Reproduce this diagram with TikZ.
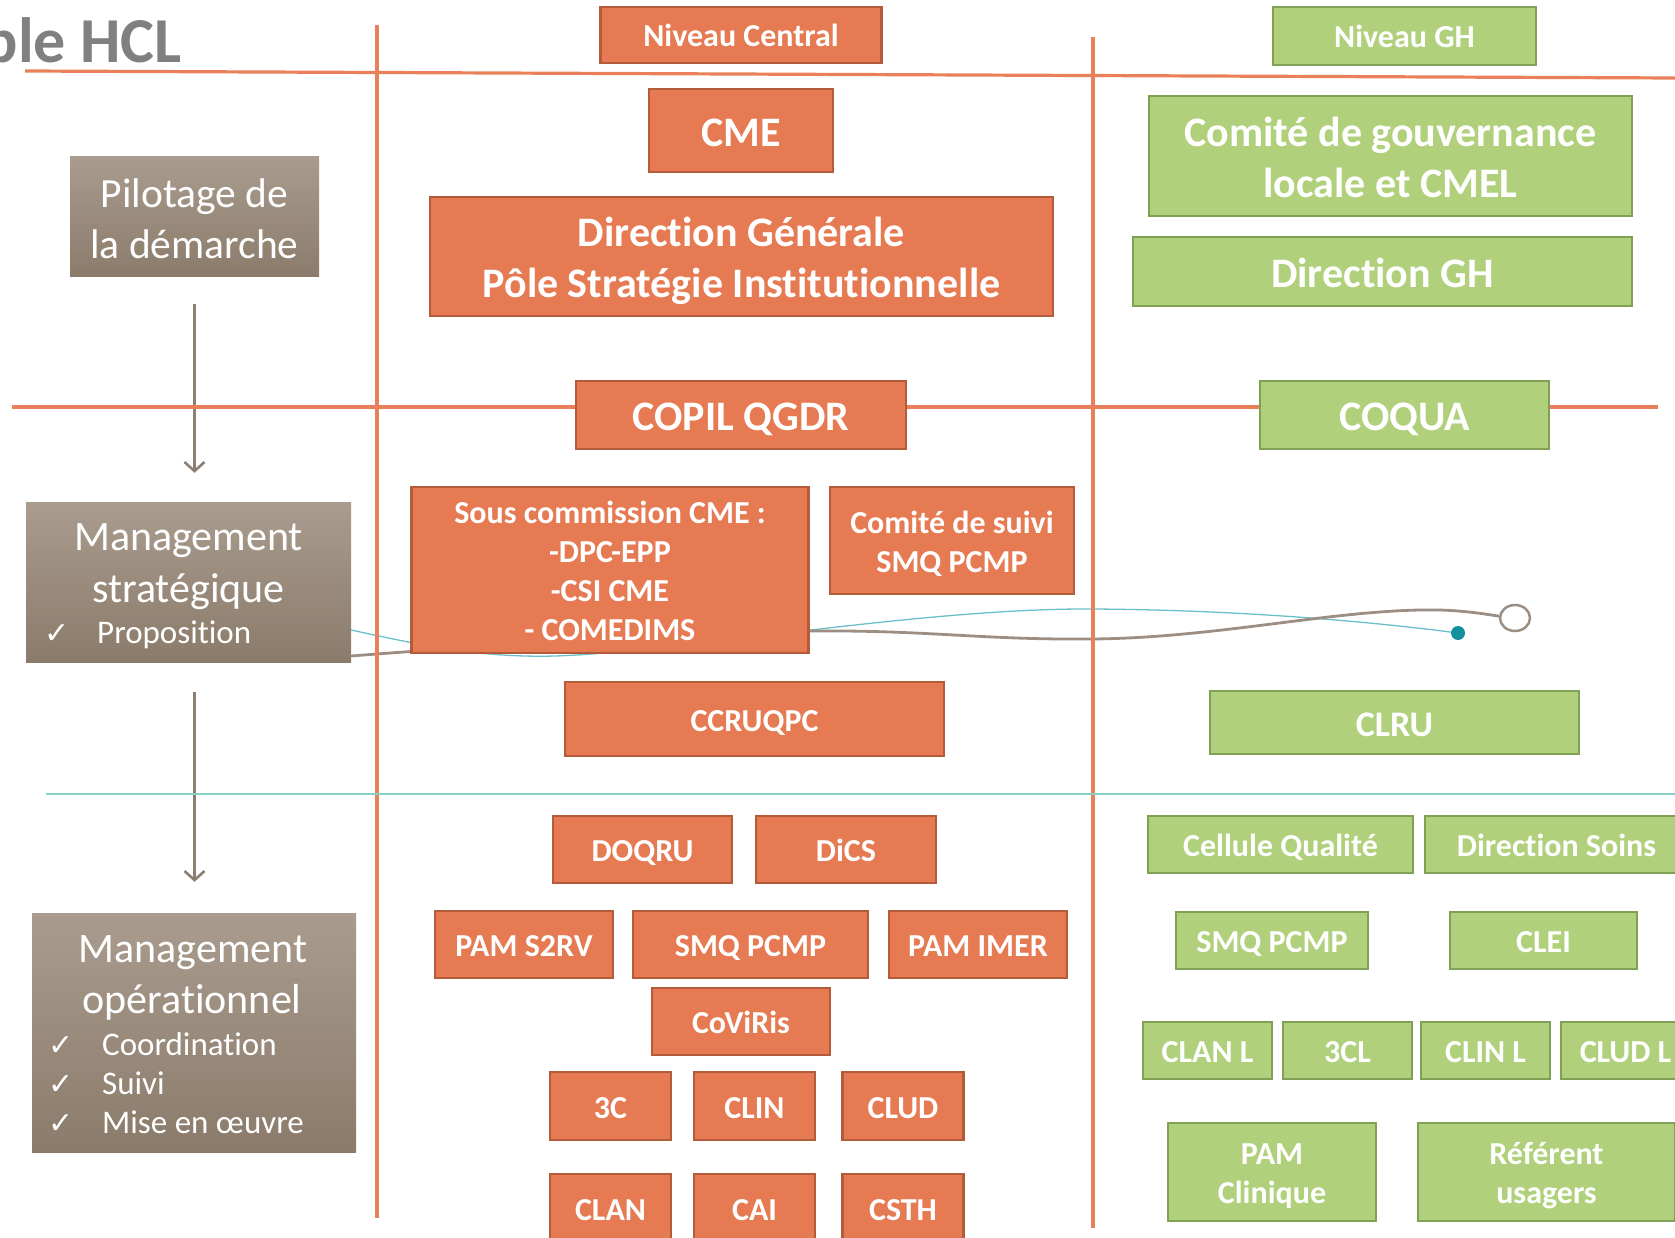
\documentclass[tikz,border=0pt]{standalone}
\usepackage{fontspec}
\setmainfont{Carlito}[Ligatures=NoCommon]
\newfontfamily\symfont{DejaVu Sans}
\usetikzlibrary{arrows.meta,shapes.geometric,calc}
\definecolor{oF}{HTML}{E67A52}
\definecolor{oD}{HTML}{B35B3B}
\definecolor{oL}{HTML}{E9805A}
\definecolor{gF}{HTML}{B0D07B}
\definecolor{gD}{HTML}{80A055}
\definecolor{grT}{HTML}{A99C8E}
\definecolor{grB}{HTML}{8B7B6B}
\definecolor{titleC}{HTML}{808080}
\definecolor{tealL}{HTML}{86D0C4}
\definecolor{tealC}{HTML}{6BBFC9}
\definecolor{dotC}{HTML}{12909E}
\definecolor{grayC}{HTML}{9C8E82}
\definecolor{arrC}{HTML}{8D7E72}
\newcommand\topst{\rule{0pt}{1.04em}}
\newcommand\botst{\rule[-0.29em]{0pt}{0.29em}}
\tikzset{
  box/.style={draw, line width=2.5pt, inner sep=0pt, text=white, align=center,
    font=\bfseries\fontsize{32}{39}\selectfont},
  obox/.style={box, fill=oF, draw=oD},
  gbox/.style={box, fill=gF, draw=gD},
  big/.style={font=\bfseries\fontsize{42}{51}\selectfont},
  graybox/.style={inner sep=0pt, top color=grT, bottom color=grB, draw=none,
    text=white, align=center, font=\fontsize{41.5}{51}\selectfont},
  sz/.style 2 args={minimum width=#1pt, minimum height=#2pt},
  wt/.style={inner sep=0pt, text=white, font=\fontsize{42}{51}\selectfont},
  wsmall/.style={inner sep=0pt, text=white, font=\fontsize{33}{39}\selectfont},
  chk/.style={inner sep=0pt, text=white, font=\symfont\fontsize{30}{34}\selectfont},
  oline/.style={draw=oL, line width=3.2pt},
  tline/.style={draw=tealL, line width=2.5pt},
  arr/.style={draw=arrC, line width=2.6pt, -{Straight Barb[length=9pt,width=20pt]}},
  tealcurve/.style={draw=tealC, line width=1.3pt},
  graycurve/.style={draw=grayC, line width=2.8pt},
}
\begin{document}
\begin{tikzpicture}[x=1pt,y=-1pt]
\useasboundingbox (0,0) rectangle (1675,1238);
\clip (0,0) rectangle (1675,1238);

% title
\node[anchor=base east, inner sep=0pt, text=titleC, font=\bfseries\fontsize{64}{70}\selectfont] (title) at (182,63) {ble HCL};

% gray boxes
\node[graybox, sz={249}{120}] (pil) at (194.5,217) {\topst Pilotage de\\la démarche\botst};
\node[graybox, sz={325}{160}] (ms) at (188.5,582) {};
\node[graybox, sz={324}{239}] (mo) at (194,1032.5) {};

\node[wt, anchor=base] (ms1) at (188.5,550) {Management};
\node[wt, anchor=base] (ms2) at (188.5,602) {stratégique};
\node[chk, anchor=base] (msk) at (57,643) {✓};
\node[wsmall, anchor=base west] (ms3) at (97,643) {Proposition};

\node[wt, anchor=base] (mo1) at (193,962) {Management};
\node[wt, anchor=base] (mo2) at (192,1013) {opérationnel};
\node[chk, anchor=base] (mok1) at (61,1055) {✓};
\node[wsmall, anchor=base west] (mo3) at (102,1055) {Coordination};
\node[chk, anchor=base] (mok2) at (61,1094) {✓};
\node[wsmall, anchor=base west] (mo4) at (102,1094) {Suivi};
\node[chk, anchor=base] (mok3) at (61,1133) {✓};
\node[wsmall, anchor=base west] (mo5) at (102,1133) {Mise en œuvre};

% arrows
\draw[arr, shorten <=27pt, shorten >=29pt] (pil.south) -- (pil.south |- ms.north);
\draw[arr, shorten <=30pt, shorten >=31pt] (pil.south |- ms.south) -- (pil.south |- mo.north);

% end markers of curves
\node[circle, fill=dotC, minimum size=14pt, inner sep=0pt] (dot) at (1458,633) {};
\node[ellipse, draw=grayC, line width=2.5pt, fill=white, minimum width=30pt, minimum height=26pt, inner sep=0pt] (circ) at (1515,618) {};

% curves
\coordinate (t0) at ($(ms.east)+(0,48)$);
\coordinate (g0) at ($(ms.east)+(0,74)$);
\draw[tealcurve] (t0) .. controls (420,645) and (480,658) .. (555,656)
  .. controls (680,652) and (920,608) .. (1092,609)
  .. controls (1250,610) and (1380,623) .. (dot);
\draw[graycurve] (g0) .. controls (450,648) and (700,632) .. (810,631)
  .. controls (930,630) and (980,640) .. (1092,639)
  .. controls (1220,638) and (1340,608) .. (1440,610)
  .. controls (1470,611) and (1490,615) .. (circ);

% separator lines
\draw[oline] (25,71) -- (1675,78);
\draw[oline] (12,407) -- (1658,407);
\draw[oline] (377,25) -- (377,1218);
\draw[oline] (1093,37) -- (1093,1228);
\draw[tline] (46,794) -- (1675,794);

% central level (orange)
\node[obox, sz={281}{56}] (nc) at (741,35) {\topst Niveau Central\botst};
\node[obox, big, sz={184}{83}] (cme) at (741,130.5) {\topst CME\botst};
\node[obox, big, sz={623}{119}] (dg) at (741.5,256.5) {\topst Direction Générale\\Pôle Stratégie Institutionnelle\botst};
\node[obox, big, sz={330}{68}] (copil) at (741,415) {\topst COPIL QGDR\botst};
\node[obox, sz={397}{166}] (sc) at (610,570) {\topst Sous commission CME :\\-DPC-EPP\\-CSI CME\\- COMEDIMS\botst};
\node[obox, sz={244}{107}] (cs) at (952,540.5) {\topst Comité de suivi\\SMQ PCMP\botst};
\node[obox, sz={379}{74}] (ccru) at (754.5,719) {\topst CCRUQPC\botst};
\node[obox, sz={179}{67}] (doqru) at (642.5,849.5) {\topst DOQRU\botst};
\node[obox, sz={180}{67}] (dics) at (846,849.5) {\topst DiCS\botst};
\node[obox, sz={178}{67}] (s2rv) at (524,944.5) {\topst PAM S2RV\botst};
\node[obox, sz={235}{67}] (smqc) at (750.5,944.5) {\topst SMQ PCMP\botst};
\node[obox, sz={178}{67}] (imer) at (978,944.5) {\topst PAM IMER\botst};
\node[obox, sz={178}{67}] (covi) at (741,1021.5) {\topst CoViRis\botst};
\node[obox, sz={121}{68}] (c3) at (610.5,1106) {\topst 3C\botst};
\node[obox, sz={121}{68}] (clin) at (754.5,1106) {\topst CLIN\botst};
\node[obox, sz={121}{68}] (clud) at (903,1106) {\topst CLUD\botst};
\node[obox, sz={121}{68}] (clan) at (610.5,1208) {\topst CLAN\botst};
\node[obox, sz={121}{68}] (cai) at (754.5,1208) {\topst CAI\botst};
\node[obox, sz={121}{68}] (csth) at (903,1208) {\topst CSTH\botst};

% GH level (green)
\node[gbox, sz={263}{58}] (ngh) at (1404.5,36) {\topst Niveau GH\botst};
\node[gbox, big, sz={483}{120}] (cgl) at (1390.5,156) {\topst Comité de gouvernance\\locale et CMEL\botst};
\node[gbox, big, sz={499}{69}] (dgh) at (1382.5,271.5) {\topst Direction GH\botst};
\node[gbox, big, sz={289}{68}] (coqua) at (1404.5,415) {\topst COQUA\botst};
\node[gbox, sz={369}{63}, font=\bfseries\fontsize{36}{44}\selectfont] (clru) at (1394.5,722.5) {\topst CLRU\botst};
\node[gbox, sz={265}{57}] (cq) at (1280.5,844.5) {\topst Cellule Qualité\botst};
\node[gbox, sz={263}{57}] (ds) at (1556.5,844.5) {\topst Direction Soins\botst};
\node[gbox, sz={192}{57}] (smqg) at (1272,940.5) {\topst SMQ PCMP\botst};
\node[gbox, sz={187}{57}] (clei) at (1543.5,940.5) {\topst CLEI\botst};
\node[gbox, sz={129}{57}] (clanl) at (1207.5,1050.5) {\topst CLAN L\botst};
\node[gbox, sz={129}{57}] (cl3) at (1347.5,1050.5) {\topst 3CL\botst};
\node[gbox, sz={129}{57}] (clinl) at (1485.5,1050.5) {\topst CLIN L\botst};
\node[gbox, sz={129}{57}] (cludl) at (1625.5,1050.5) {\topst CLUD L\botst};
\node[gbox, sz={208}{98}] (pamc) at (1272,1172) {\topst PAM\\Clinique\botst};
\node[gbox, sz={257}{98}] (ref) at (1546.5,1172) {\topst Référent\\usagers\botst};
\end{tikzpicture}
\end{document}
